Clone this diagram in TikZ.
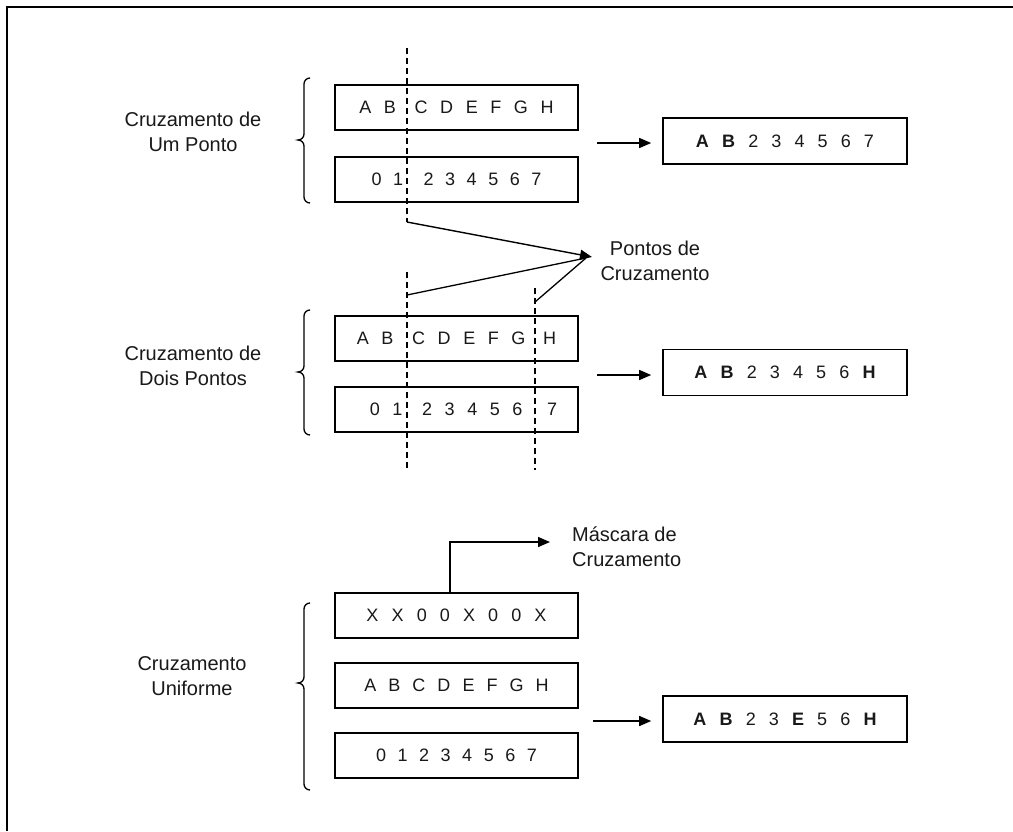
\documentclass[tikz,border=0pt]{standalone}
\usepackage{fontspec}
\setmainfont{Liberation Sans}
\usetikzlibrary{arrows.meta}
\newcommand\mybrace[3]{%
  \draw[brc] (310,#1) to[out=180,in=90] (304,#1+6) -- (304,#2-6)
    to[out=-90,in=0] (298,#2) to[out=0,in=90] (304,#2+6) -- (304,#3-6)
    to[out=-90,in=180] (310,#3);}
\newcommand\gapa{\spaceskip 0.73em\relax}
\newcommand\gapb{\spaceskip 0.70em\relax}
\newcommand\gapc{\spaceskip 0.64em\relax}
\newcommand\gapd{\spaceskip 0.67em\relax}
\begin{document}
\begin{tikzpicture}[x=1pt,y=-1pt,
  lbl/.style={font=\fontsize{20}{25}\selectfont, align=center, inner sep=0pt, text=black!90},
  bx/.style={draw, line width=1.6pt, minimum width=243pt, minimum height=45pt, inner sep=0pt,
    font=\fontsize{18}{22}\selectfont\gapa, text=black!90},
  res/.style={bx, minimum width=244pt, minimum height=46pt},
  arr/.style={line width=1.4pt, -{Triangle[length=12pt,width=10pt]}},
  cut/.style={line width=1.2pt, dash pattern=on 6pt off 4pt},
  brc/.style={line width=1.3pt},
  thin/.style={line width=1.3pt}
  ]
\fill[white] (0,0) rectangle (1013,831);
\useasboundingbox (0,0) rectangle (1013,831);
% frame
\draw[line width=2pt] (7,831) -- (7,7) -- (1013,7);

% ---- one point
\node[lbl] (l1) at (193,132) {Cruzamento de\\Um Ponto};
\mybrace{78}{140}{203}
\node[bx] (a1) at (456.5,107.5) {\gapb A B\hspace{6pt} C D E F G H};
\node[bx] (b1) at (456.5,179.5) {\gapc 0 1\hspace{9pt} 2 3 4 5 6 7\hspace{7pt}};
\node[res] (r1) at (785,141) {{\bfseries A B} 2 3 4 5 6 7};
\coordinate (s1) at (597,143);
\draw[arr, shorten >=11pt] (s1) -- (s1 -| r1.west);
\draw[cut] (407,48) -- (407,222);

% ---- pointers
\coordinate (tip) at (592,257);
\coordinate (p1) at (407,222);
\coordinate (p2) at (407,295);
\coordinate (p3) at (535,302);
\draw[thin] (p2) -- (586,258);
\draw[thin] (p3) -- (586,258);
\draw[arr] (p1) -- (tip);
\node[lbl] (pc) at (655,261) {Pontos de\\Cruzamento};

% ---- two points
\node[lbl] (l2) at (193,366) {Cruzamento de\\Dois Pontos};
\mybrace{310}{372}{435}
\node[bx] (a2) at (456.5,338.5) {\gapb A B\hspace{6pt} C D E F G\hspace{5pt} H};
\node[bx] (b2) at (456.5,409.5) {\gapb\hspace{14pt}0 1\hspace{7pt} 2 3 4 5 6\hspace{12pt} 7};
\node[res] (r2) at (785,372.5) {{\bfseries A B} 2 3 4 5 6 {\bfseries H}};
\coordinate (s2) at (597,375);
\draw[arr, shorten >=11pt] (s2) -- (s2 -| r2.west);
\draw[cut] (407,272) -- (407,470);
\draw[cut] (535,288) -- (535,470);

% ---- uniform
\node[lbl] (l3) at (192,676) {Cruzamento\\Uniforme};
\mybrace{603}{683}{790}
\node[bx] (m) at (456.5,615.5) {X X 0 0 X 0 0 X};
\node[bx] (a3) at (456.5,685.5) {\gapd A B C D E F G H};
\node[bx] (b3) at (456.5,755.5) {\gapc 0 1 2 3 4 5 6 7};
\node[res] (r3) at (785,719) {{\bfseries A B} 2 3 {\bfseries E} 5 6 {\bfseries H}};
\coordinate (s3) at (593,721);
\draw[arr, shorten >=11pt] (s3) -- (s3 -| r3.west);
\coordinate (mk) at (550,542);
\draw[arr] ([xshift=-6.5pt]m.north) |- (mk);
\node[lbl, anchor=west, align=left] (ml) at (572,547) {Máscara de\\Cruzamento};
\end{tikzpicture}
\end{document}
